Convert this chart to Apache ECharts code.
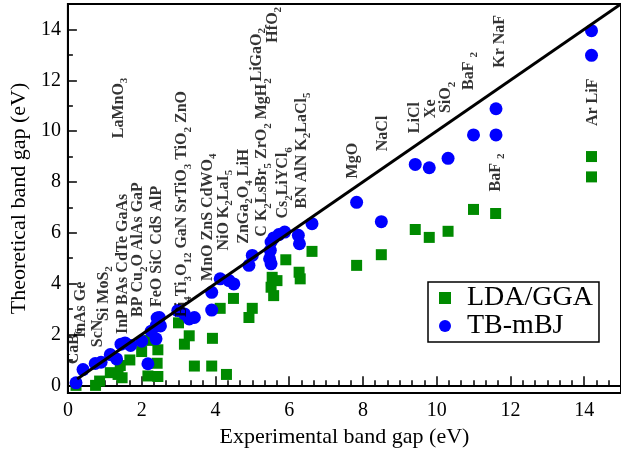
<!DOCTYPE html>
<html>
<head>
<meta charset="utf-8">
<script src="https://cdn.jsdelivr.net/npm/echarts@6/dist/echarts.min.js"></script>
<style>
html, body { margin: 0; padding: 0; background: #fff; }
#chart { width: 621px; height: 455px; }
</style>
</head>
<body>
<div id="chart"></div>
<script>
// experimental gap (x) vs calculated gap (y)
var ldaX = [0.22, 0.75, 0.86, 1.15, 1.36, 1.47, 1.42, 1.68, 2.0, 2.21, 2.17, 2.44, 2.42, 2.44, 3.0, 3.16, 3.29, 3.43, 3.9, 3.92, 4.13, 4.3, 4.49, 4.91, 5.0, 5.51, 5.54, 5.58, 5.67, 5.91, 6.27, 6.3, 6.62, 7.83, 8.5, 9.42, 9.8, 10.31, 11.0, 11.6, 14.2, 14.2];
var ldaY = [0.0, 0.0, 0.17, 0.5, 0.43, 0.3, 0.78, 1.0, 1.33, 1.77, 0.37, 0.35, 0.87, 1.4, 2.46, 1.62, 1.95, 0.76, 0.76, 1.85, 3.03, 0.43, 3.42, 2.67, 3.03, 3.86, 4.25, 3.53, 4.12, 4.94, 4.45, 4.19, 5.27, 4.72, 5.14, 6.13, 5.82, 6.06, 6.92, 6.76, 9.0, 8.2];

var mbjX = [0.22, 0.41, 0.74, 0.9, 1.15, 1.32, 1.44, 1.55, 1.7, 2.0, 2.17, 2.26, 2.39, 2.42, 2.48, 2.39, 2.51, 2.98, 3.16, 3.29, 3.43, 3.9, 3.9, 4.13, 4.37, 4.5, 4.91, 5.0, 5.51, 5.47, 5.49, 5.51, 5.58, 5.72, 5.88, 6.25, 6.28, 6.62, 7.83, 8.5, 9.42, 9.8, 10.31, 11.0, 11.61, 11.61, 14.2, 14.2];
var mbjY = [0.1, 0.62, 0.86, 0.91, 1.21, 1.04, 1.62, 1.67, 1.57, 1.74, 0.85, 2.13, 2.34, 2.65, 2.67, 1.83, 2.34, 2.94, 2.81, 2.61, 2.67, 2.96, 3.66, 4.19, 4.12, 3.99, 4.72, 5.11, 4.78, 4.98, 5.31, 5.64, 5.8, 5.93, 6.03, 5.9, 5.57, 6.36, 7.2, 6.44, 8.69, 8.56, 8.93, 9.85, 9.85, 10.88, 13.95, 12.98];

// y = x guide
var lineX = [0.25, 15];
var lineY = [0.25, 15];

// compound labels: [x, y of the text start, text]; _n marks a subscript
var labelX = [0.16, 0.35, 0.81, 0.97, 1.48, 1.37, 1.91, 2.4, 3.1, 3.8, 4.23, 4.77, 5.27, 5.12, 5.55, 5.84, 6.35, 7.73, 8.54, 9.4, 9.85, 10.26, 10.88, 11.71, 11.6, 14.24];
var labelY = [0.83, 1.86, 1.5, 2.53, 2.02, 9.72, 2.69, 3.08, 2.69, 4.11, 5.3, 5.57, 5.85, 11.95, 13.48, 6.56, 6.96, 8.14, 9.21, 9.92, 10.51, 10.71, 11.62, 12.49, 7.63, 10.2];
var labelText = ['CaB_6', 'InAs Ge', 'ScN', 'Si MoS_2', 'InP BAs CdTe GaAs', 'LaMnO_3', 'BP Cu_2O AlAs GaP', 'FeO SiC CdS AlP',
  'Bi_4Ti_3O_12 GaN SrTiO_3 TiO_2 ZnO', 'MnO ZnS CdWO_4', 'NiO K_2LaI_5', 'ZnGa_2O_4 LiH', 'C K_2LsBr_5 ZrO_2 MgH_2', 'LiGaO_2', 'HfO_2',
  'Cs_2LiYCl_6', 'BN AlN K_2LaCl_5', 'MgO', 'NaCl', 'LiCl', 'Xe', 'SiO_2', 'BaF _2', 'Kr NaF', 'BaF _2', 'Ar LiF'];

var xMajor = [0, 2, 4, 6, 8, 10, 12, 14];
var yMajor = [0, 2, 4, 6, 8, 10, 12, 14];

var serif = 'Liberation Serif';

function zip(xs, ys) {
  return xs.map(function (x, i) { return [x, ys[i]]; });
}

function richLabel(s) {
  return s.split(/(_\d+)/).filter(function (p) { return p.length; }).map(function (p) {
    return p.charAt(0) === '_' ? '{s|' + p.slice(1) + '}' : '{n|' + p + '}';
  }).join('');
}

var xMinor = [], yMinor = [];
for (var i = 0; i <= 45; i++) { if (i % 6 !== 0) xMinor.push(i / 3); }
for (var j = 1; j < 15; j += 2) yMinor.push(j);

var chart = echarts.init(document.getElementById('chart'));

var option = {
  animation: false,
  grid: {
    left: 66, top: 4, width: 557, height: 389,
    show: true, borderColor: '#000', borderWidth: 2, backgroundColor: 'transparent'
  },
  legend: {
    data: [{ name: 'LDA/GGA', icon: 'rect' }, { name: 'TB-mBJ', icon: 'circle' }],
    orient: 'vertical',
    left: 428, top: 282,
    itemWidth: 12, itemHeight: 12, itemGap: 0,
    padding: [2, 6, 2, 11],
    borderColor: '#000', borderWidth: 1.5,
    textStyle: { fontFamily: serif, fontSize: 28, color: '#000', padding: [0, 0, 0, 11], lineHeight: 25 }
  },
  xAxis: [{
    type: 'value', min: 0, max: 15,
    name: 'Experimental band gap (eV)', nameLocation: 'middle', nameGap: 33,
    nameTextStyle: { fontFamily: serif, fontSize: 22, color: '#000' },
    axisLine: { show: true, lineStyle: { color: '#000', width: 2 } },
    axisTick: { inside: true, length: 9, customValues: xMajor, lineStyle: { color: '#000', width: 1.5 } },
    axisLabel: { customValues: xMajor, margin: 8, fontFamily: serif, fontSize: 20, color: '#000' },
    splitLine: { show: false }
  }, {
    type: 'value', min: 0, max: 15, position: 'bottom',
    axisLine: { show: false },
    axisTick: { inside: true, length: 5, customValues: xMinor, lineStyle: { color: '#000', width: 1.5 } },
    axisLabel: { show: false },
    splitLine: { show: false }
  }],
  yAxis: [{
    type: 'value', min: -0.3, max: 15,
    name: 'Theoretical band gap (eV)', nameLocation: 'middle', nameGap: 35,
    nameTextStyle: { fontFamily: serif, fontSize: 22, color: '#000' },
    axisLine: { show: true, lineStyle: { color: '#000', width: 2 } },
    axisTick: { inside: true, length: 9, customValues: yMajor, lineStyle: { color: '#000', width: 1.5 } },
    axisLabel: { customValues: yMajor, margin: 7, fontFamily: serif, fontSize: 20, color: '#000' },
    splitLine: { show: false }
  }, {
    type: 'value', min: -0.3, max: 15, position: 'left',
    axisLine: { show: false },
    axisTick: { inside: true, length: 5, customValues: yMinor, lineStyle: { color: '#000', width: 1.5 } },
    axisLabel: { show: false },
    splitLine: { show: false }
  }],
  series: [
    {
      name: 'LDA/GGA', type: 'scatter', symbol: 'rect', symbolSize: 11,
      itemStyle: { color: '#008a00', opacity: 1 }, z: 2,
      data: zip(ldaX, ldaY)
    },
    {
      name: 'TB-mBJ', type: 'scatter', symbol: 'circle', symbolSize: 13,
      itemStyle: { color: '#0000ff', opacity: 1 }, z: 3,
      data: zip(mbjX, mbjY)
    },
    {
      name: 'y=x', type: 'line', symbol: 'none', z: 4, silent: true,
      lineStyle: { color: '#000', width: 3 },
      data: zip(lineX, lineY)
    },
    {
      name: 'labels', type: 'scatter', symbolSize: 0, z: 5, silent: true,
      data: labelX.map(function (x, i) { return { value: [x, labelY[i]], name: labelText[i] }; }),
      label: {
        show: true, position: 'inside', rotate: 90, align: 'left', verticalAlign: 'middle',
        formatter: function (p) { return richLabel(p.name); },
        rich: {
          n: { fontFamily: serif, fontWeight: 'bold', fontSize: 16, color: '#000', lineHeight: 22, verticalAlign: 'middle' },
          s: { fontFamily: serif, fontWeight: 'bold', fontSize: 11, color: '#000', lineHeight: 22, verticalAlign: 'bottom' }
        }
      }
    }
  ]
};

chart.setOption(option);
</script>
</body>
</html>
